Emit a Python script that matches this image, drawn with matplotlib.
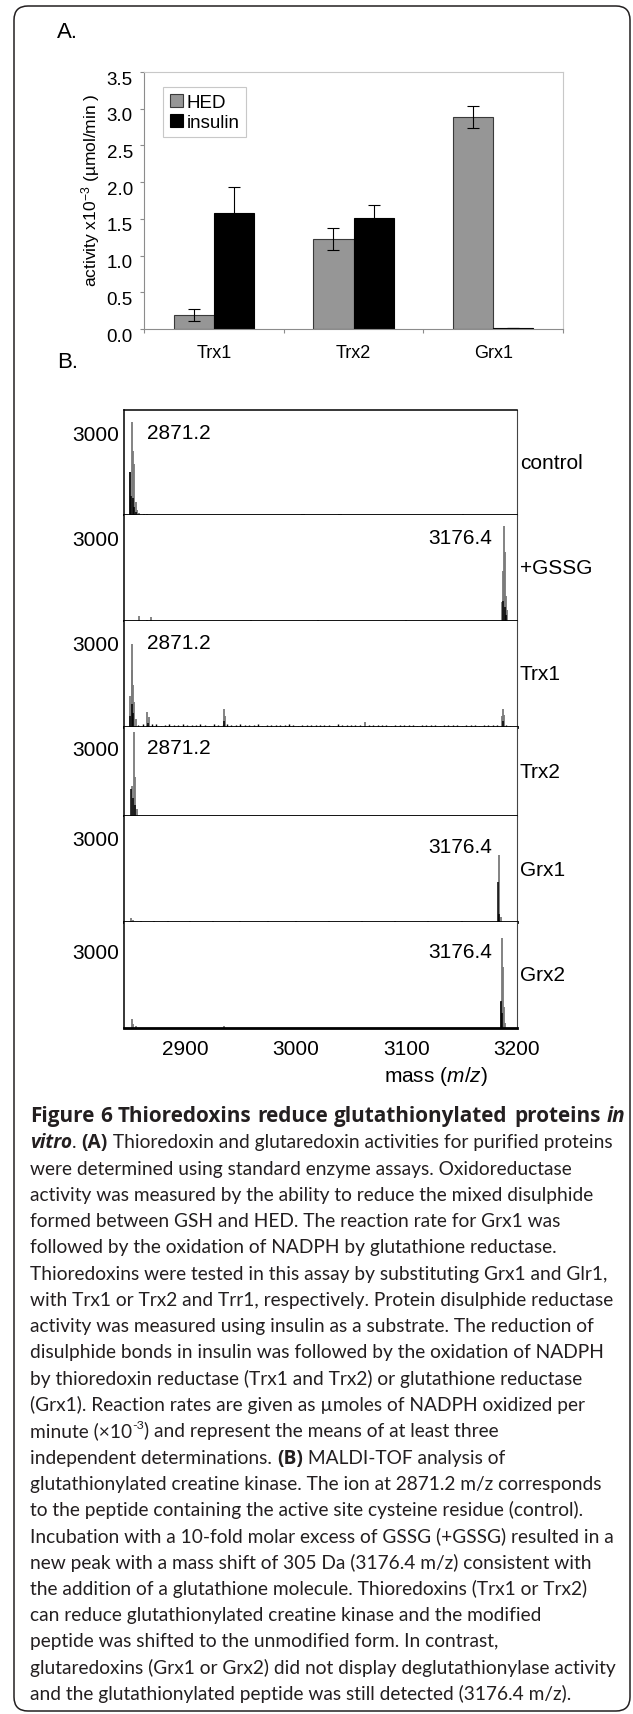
import matplotlib
matplotlib.use('Agg')
import matplotlib.pyplot as plt
import numpy as np
from matplotlib.patches import FancyBboxPatch
from matplotlib.transforms import IdentityTransform, ScaledTranslation

plt.rcParams['font.family'] = ['Liberation Sans', 'DejaVu Sans']
plt.rcParams['mathtext.fontset'] = 'custom'
plt.rcParams['mathtext.rm'] = 'Liberation Sans'
plt.rcParams['mathtext.it'] = 'Liberation Sans:italic'
plt.rcParams['mathtext.bf'] = 'Liberation Sans:bold'

W, H, DPI = 633, 1715, 100

# ---------------- Panel A data ----------------
categories = ['Trx1', 'Trx2', 'Grx1']
hed_values = [0.19, 1.23, 2.89]
hed_errors = [0.08, 0.15, 0.15]
insulin_values = [1.58, 1.51, 0.01]
insulin_errors = [0.36, 0.18, 0.0]
a_yticks = [0.0, 0.5, 1.0, 1.5, 2.0, 2.5, 3.0, 3.5]
a_yticklabels = ['0.0', '0.5', '1.0', '1.5', '2.0', '2.5', '3.0', '3.5']

# ---------------- Panel B data ----------------
b_xticks = [2900, 3000, 3100, 3200]
b_xticklabels = ['2900', '3000', '3100', '3200']
spectra_names = ['control', '+GSSG', 'Trx1', 'Trx2', 'Grx1', 'Grx2']
peak_labels = ['2871.2', '3176.4', '2871.2', '2871.2', '3176.4', '3176.4']
intensity_tick = 3000

control_gray_mass = [2850.4, 2852.0, 2853.0, 2854.3, 2855.8, 2857.0, 2859.0, 2863.0, 2866.0, 3006.0, 3008.0, 3039.0, 3041.0, 3151.0]
control_gray_int = [1560, 3370, 2300, 1850, 470, 190, 60, 40, 40, 50, 40, 50, 50, 30]
control_black_mass = [2850.4, 2851.4, 2852.9, 2854.0, 2855.5]
control_black_int = [1560, 700, 600, 300, 120]

gssg_gray_mass = [2858.8, 2869.7, 2866.0, 2960.0, 3020.0, 3100.0, 3186.5, 3187.5, 3188.2, 3189.0, 3190.0, 3191.0]
gssg_gray_int = [190, 150, 40, 25, 25, 25, 680, 1800, 3420, 2470, 900, 380]
gssg_black_mass = [3187.8, 3189.3, 3190.3]
gssg_black_int = [700, 500, 200]

trx1_gray_mass = [2850.8, 2851.8, 2852.6, 2853.5, 2854.4, 2855.5, 2866.0, 2868.0, 2935.3, 2936.5, 3063.0, 3186.5, 3187.5, 3188.5]
trx1_gray_int = [1100, 2000, 2930, 1500, 900, 300, 520, 370, 640, 400, 190, 380, 640, 420]
trx1_black_mass = [2850.5, 2852.0, 2853.2, 2867.0, 2935.5, 3187.0]
trx1_black_int = [400, 800, 500, 150, 200, 200]
trx1_noise_mass = [2858, 2862, 2866, 2870, 2874, 2878, 2882, 2886, 2890, 2894, 2898, 2902,
                   2906, 2910, 2914, 2918, 2922, 2926, 2930, 2934, 2938, 2942, 2946, 2950,
                   2954, 2958, 2962, 2966, 2970, 2974, 2978, 2982, 2986, 2990, 2994, 2998,
                   3002, 3006, 3010, 3014, 3018, 3022, 3026, 3030, 3034, 3038, 3042, 3046,
                   3050, 3054, 3058, 3062, 3066, 3070, 3074, 3078, 3082, 3086, 3090, 3094,
                   3098, 3102, 3106, 3110, 3114, 3118, 3122, 3126, 3130, 3134, 3138, 3142,
                   3146, 3150, 3154, 3158, 3162, 3166, 3170, 3174, 3178, 3182, 3190, 3194]
trx1_noise_int = [70, 110, 60, 90, 120, 50, 80, 100, 60, 75, 95, 55, 85, 60, 100, 70, 50, 90,
                  65, 80, 120, 60, 70, 95, 55, 80, 60, 90, 50, 70, 85, 60, 75, 55, 90, 65,
                  50, 80, 60, 70, 55, 85, 60, 75, 50, 90, 65, 55, 80, 60, 70, 50, 85, 60,
                  75, 55, 65, 50, 80, 60, 70, 55, 65, 50, 75, 60, 55, 70, 50, 65, 60, 55,
                  70, 50, 60, 55, 65, 50, 60, 70, 55, 60, 55, 50]

trx2_gray_mass = [2852.5, 2853.8, 2855.1, 2857.0]
trx2_gray_int = [1300, 3640, 1700, 310]
trx2_black_mass = [2851.5, 2853.3, 2854.5]
trx2_black_int = [1160, 770, 500]

grx1_gray_mass = [2851.0, 2853.0, 2860.0, 2872.0, 2885.0, 2905.0, 2925.0, 2950.0, 2975.0, 3000.0,
                  3030.0, 3060.0, 3090.0, 3120.0, 3150.0, 3184.1, 3185.2]
grx1_gray_int = [150, 80, 40, 30, 30, 30, 25, 30, 25, 30, 25, 30, 25, 30, 25, 2370, 190]
grx1_black_mass = [3182.7, 3183.5]
grx1_black_int = [1420, 300]

grx2_gray_mass = [2852.0, 2853.0, 2856.0, 2935.0, 3185.8, 3186.2, 3187.1, 3188.3, 3189.5]
grx2_gray_int = [330, 150, 80, 80, 1000, 3490, 2380, 820, 200]
grx2_black_mass = [3185.8, 3186.6]
grx2_black_int = [1030, 600]

spectra_gray = [(control_gray_mass, control_gray_int), (gssg_gray_mass, gssg_gray_int),
                (trx1_gray_mass, trx1_gray_int), (trx2_gray_mass, trx2_gray_int),
                (grx1_gray_mass, grx1_gray_int), (grx2_gray_mass, grx2_gray_int)]
spectra_black = [(control_black_mass, control_black_int), (gssg_black_mass, gssg_black_int),
                 (trx1_black_mass, trx1_black_int), (trx2_black_mass, trx2_black_int),
                 (grx1_black_mass, grx1_black_int), (grx2_black_mass, grx2_black_int)]
panel_ytop = [3800, 3800, 3750, 3870, 3750, 4110]

# ---------------- Caption ----------------
caption_heading = [("Figure", 'b'), ("6", 'b'), ("Thioredoxins", 'b'), ("reduce", 'b'),
                   ("glutathionylated", 'b'), ("proteins", 'b'), ("in", 'bi')]
caption_lines = [
    None,
    [("vitro", 'bi'), (". ", 'n'), ("(A)", 'b'), (" Thioredoxin and glutaredoxin activities for purified proteins", 'n')],
    [("were determined using standard enzyme assays. Oxidoreductase", 'n')],
    [("activity was measured by the ability to reduce the mixed disulphide", 'n')],
    [("formed between GSH and HED. The reaction rate for Grx1 was", 'n')],
    [("followed by the oxidation of NADPH by glutathione reductase.", 'n')],
    [("Thioredoxins were tested in this assay by substituting Grx1 and Glr1,", 'n')],
    [("with Trx1 or Trx2 and Trr1, respectively. Protein disulphide reductase", 'n')],
    [("activity was measured using insulin as a substrate. The reduction of", 'n')],
    [("disulphide bonds in insulin was followed by the oxidation of NADPH", 'n')],
    [("by thioredoxin reductase (Trx1 and Trx2) or glutathione reductase", 'n')],
    [("(Grx1). Reaction rates are given as \u00b5moles of NADPH oxidized per", 'n')],
    [("minute (\u00d710", 'n'), ("-3", 'sup'), (") and represent the means of at least three", 'n')],
    [("independent determinations. ", 'n'), ("(B)", 'b'), (" MALDI-TOF analysis of", 'n')],
    [("glutathionylated creatine kinase. The ion at 2871.2 m/z corresponds", 'n')],
    [("to the peptide containing the active site cysteine residue (control).", 'n')],
    [("Incubation with a 10-fold molar excess of GSSG (+GSSG) resulted in a", 'n')],
    [("new peak with a mass shift of 305 Da (3176.4 m/z) consistent with", 'n')],
    [("the addition of a glutathione molecule. Thioredoxins (Trx1 or Trx2)", 'n')],
    [("can reduce glutathionylated creatine kinase and the modified", 'n')],
    [("peptide was shifted to the unmodified form. In contrast,", 'n')],
    [("glutaredoxins (Grx1 or Grx2) did not display deglutathionylase activity", 'n')],
    [("and the glutathionylated peptide was still detected (3176.4 m/z).", 'n')],
]

fig = plt.figure(figsize=(W / DPI, H / DPI), dpi=DPI)
fig.patch.set_facecolor('white')


def fx(px):
    return px / W


def fy(py):
    return 1 - py / H


# outer rounded border
border = FancyBboxPatch((14, 3), 616, 1705, boxstyle='round,pad=0,rounding_size=14',
                        transform=IdentityTransform(), fill=False, edgecolor='#231f20', linewidth=1.1)
fig.add_artist(border)

# ---------------- Panel A ----------------
fig.text(fx(57), fy(33), 'A.', fontsize=16, ha='left', va='center')
axA = fig.add_axes([fx(144), fy(330), (563 - 144) / W, (330 - 73) / H])
x = np.arange(len(categories))
bw = 0.287
ekw = dict(ecolor='black', elinewidth=0.8, capsize=4.5, capthick=0.8)
axA.bar(x - bw / 2, hed_values, bw, yerr=hed_errors, color='#969696', edgecolor='#3a3a3a',
        linewidth=0.8, label='HED', error_kw=ekw, zorder=2)
axA.bar(x + bw / 2, insulin_values, bw, yerr=insulin_errors, color='black', edgecolor='black',
        linewidth=0.8, label='insulin', error_kw=ekw, zorder=2)
axA.set_xlim(-0.5, 2.5)
axA.set_ylim(0, 3.5)
axA.set_yticks(a_yticks)
axA.set_yticklabels(a_yticklabels, fontsize=13.5)
axA.set_xticks(x)
axA.set_xticklabels(categories, fontsize=13)
axA.set_xticks([-0.5, 0.5, 1.5, 2.5], minor=True)
axA.tick_params(axis='x', which='major', length=0, pad=11)
axA.tick_params(axis='x', which='minor', length=3, width=0.8, color='#8c8c8c', direction='out')
axA.tick_params(axis='y', length=3, width=0.8, color='#8c8c8c', direction='out', pad=5)
for lab in axA.get_yticklabels():
    lab.set_transform(lab.get_transform() + ScaledTranslation(0, -5 / DPI, fig.dpi_scale_trans))
for s in ['left', 'bottom']:
    axA.spines[s].set_color('#8c8c8c')
    axA.spines[s].set_linewidth(0.8)
for s in ['top', 'right']:
    axA.spines[s].set_color('#c8c8c8')
    axA.spines[s].set_linewidth(0.8)
leg = axA.legend(loc='upper left', bbox_to_anchor=(fx(163), fy(88)), bbox_transform=fig.transFigure,
                 fontsize=13.5, frameon=True, fancybox=False, edgecolor='#c8c8c8', framealpha=1,
                 borderpad=0.35, labelspacing=0.15, handlelength=0.7, handleheight=0.7,
                 handletextpad=0.2, borderaxespad=0)
leg.get_frame().set_linewidth(0.8)
fig.text(fx(91), fy(190), 'activity x10$^{-3}$ (\u00b5mol/min )', rotation=90, fontsize=12.5,
         ha='center', va='center')

# ---------------- Panel B ----------------
fig.text(fx(57), fy(362), 'B.', fontsize=16, ha='left', va='center')
tops = [411, 516, 622, 728, 817, 923]
bots = [516, 622, 728, 817, 923, 1029]
bottom_lw = [1.3, 1.3, 2.0, 1.3, 2.0, 2.0]
label_left = [True, False, True, True, False, False]
label_yfrac = [0.79, 0.79, 0.80, 0.775, 0.71, 0.717]
L, R = 124, 517
for i in range(6):
    ax = fig.add_axes([fx(L), fy(bots[i]), (R - L) / W, (bots[i] - tops[i]) / H])
    ax.set_xlim(2845, 3200)
    ax.set_ylim(0, panel_ytop[i])
    gm, gi = spectra_gray[i]
    bm, bi = spectra_black[i]
    ax.vlines(gm, 0, gi, color='#7a7a7a', linewidth=1.3, zorder=2)
    ax.vlines(bm, 0, bi, color='black', linewidth=1.1, zorder=3)
    if i == 2:
        ax.vlines(trx1_noise_mass, 0, trx1_noise_int, color='black', linewidth=1.0, zorder=3)
    ax.set_yticks([intensity_tick])
    ax.set_yticklabels([str(intensity_tick)], fontsize=15)
    ax.tick_params(axis='y', length=0, pad=3.5)
    ax.spines['left'].set_linewidth(1.1)
    ax.spines['right'].set_linewidth(0.8)
    ax.spines['right'].set_color('#444444')
    ax.spines['top'].set_linewidth(1.1)
    ax.spines['bottom'].set_linewidth(bottom_lw[i])
    if i > 0:
        ax.spines['top'].set_visible(False)
    if i < 5:
        ax.set_xticks([])
    else:
        ax.set_xticks(b_xticks)
        ax.set_xticklabels(b_xticklabels, fontsize=15)
        ax.tick_params(axis='x', length=0, pad=8)
    ax.text(1 + 3 / (R - L), 0.5, spectra_names[i], transform=ax.transAxes, fontsize=15,
            ha='left', va='center')
    if label_left[i]:
        ax.text((147 - L) / (R - L), label_yfrac[i], peak_labels[i], transform=ax.transAxes,
                fontsize=15, ha='left', va='center')
    else:
        ax.text((492 - L) / (R - L), label_yfrac[i], peak_labels[i], transform=ax.transAxes,
                fontsize=15, ha='right', va='center')

fig.text(fx(436), fy(1077), 'mass ($\\mathit{m/z}$)', fontsize=15, ha='center', va='center')

# ---------------- Caption ----------------
renderer = fig.canvas.get_renderer()
CAPFONT = ['Lato', 'DejaVu Sans']
BOLDFONT = ['Open Sans', 'Lato', 'DejaVu Sans']
CAPCOLOR = '#231f20'


def style_kw(code, fs):
    if code == 'b':
        return dict(fontsize=fs, fontweight='bold', fontstyle='normal', family=BOLDFONT)
    if code == 'bi':
        return dict(fontsize=fs, fontweight='bold', fontstyle='italic', family=BOLDFONT)
    if code == 'sup':
        return dict(fontsize=fs * 0.65, fontweight='normal', fontstyle='normal', family=CAPFONT)
    return dict(fontsize=fs, fontweight='normal', fontstyle='normal', family=CAPFONT)


def seg_width(text, kw):
    t1 = fig.text(0, 0, '|' + text + '|', **kw)
    w1 = t1.get_window_extent(renderer).width
    t1.remove()
    t2 = fig.text(0, 0, '||', **kw)
    w2 = t2.get_window_extent(renderer).width
    t2.remove()
    return w1 - w2


ref_w = seg_width(caption_lines[21][0][0], style_kw('n', 10))
cap_fs = 10 * 589 / ref_w
cap_px = cap_fs * DPI / 72
X0 = 30.0


def baseline(i):
    return 1122 + 26.27 * i


# bold heading line, spread to the full text width
space_w = seg_width(' ', style_kw('b', cap_fs))
word_w = [seg_width(t, style_kw(c, cap_fs)) for t, c in caption_heading]
natural = sum(word_w) + space_w * (len(caption_heading) - 1)
scale = min(1.08, max(0.92, (625 - X0) / natural))
head_fs = cap_fs * scale
word_w = [w * scale for w in word_w]
gap = (625 - X0 - sum(word_w)) / (len(caption_heading) - 1)
xpos = X0
for (t, c), w in zip(caption_heading, word_w):
    fig.text(fx(xpos), fy(baseline(0)), t, ha='left', va='baseline',
             color=CAPCOLOR, **style_kw(c, head_fs))
    xpos += w + gap

for i, segs in enumerate(caption_lines):
    if segs is None:
        continue
    xpos = X0
    for text, code in segs:
        kw = style_kw(code, cap_fs)
        dy = 0.42 * cap_px if code == 'sup' else 0
        fig.text(fx(xpos), fy(baseline(i) - dy), text, ha='left', va='baseline',
                 color=CAPCOLOR, **kw)
        xpos += seg_width(text, kw)

fig.savefig('out.png', dpi=DPI, facecolor='white')
